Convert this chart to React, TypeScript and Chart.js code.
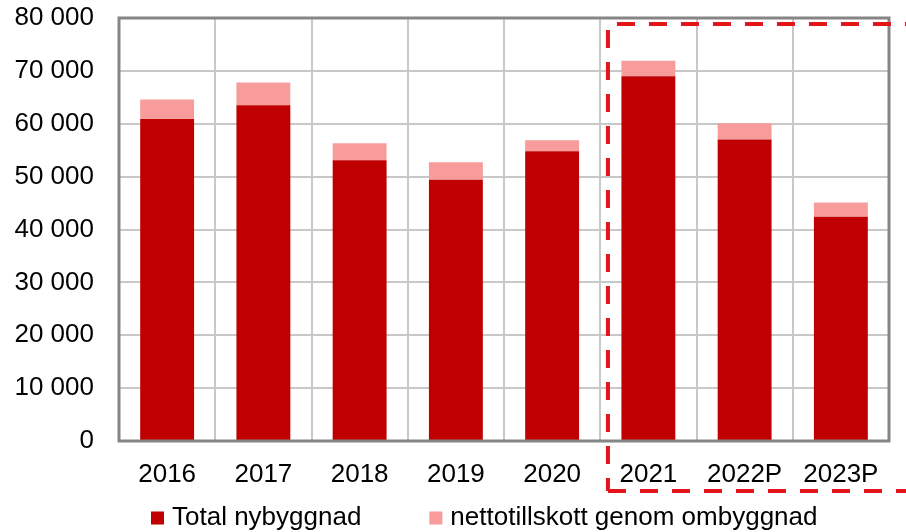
import React, { useEffect, useRef } from 'react';
import { Chart, registerables } from 'chart.js';

Chart.register(...registerables);

const categories = ['2016', '2017', '2018', '2019', '2020', '2021', '2022P', '2023P'];
const totalNybyggnad = [60900, 63500, 53100, 49400, 54800, 69000, 57000, 42400];
const nettotillskott = [3700, 4300, 3200, 3300, 2100, 2900, 3100, 2700];
const seriesLabels = ['Total nybyggnad', 'nettotillskott genom ombyggnad'];
const seriesColors = ['#C00000', '#F79B9B'];
const yMax = 80000;
const yStep = 10000;
const forecastStart = 4.58; // category position where the forecast frame begins

const FONT = '"Liberation Sans", Arial, sans-serif';

const fmt = (v: number) => String(v).replace(/\B(?=(\d{3})+(?!\d))/g, ' ');

const framePlugin = {
  id: 'frame',
  afterDatasetsDraw(chart: any) {
    const { ctx, chartArea: a } = chart;
    ctx.save();
    ctx.strokeStyle = '#858585';
    ctx.lineWidth = 3;
    ctx.strokeRect(a.left, a.top, a.right - a.left, a.bottom - a.top);
    ctx.restore();
  },
};

const forecastPlugin = {
  id: 'forecast',
  afterDraw(chart: any) {
    const { ctx, chartArea: a, scales } = chart;
    const x = scales.x.getPixelForValue(forecastStart);
    const top = a.top + 6;
    const bottom = a.bottom + 50;
    const right = chart.width + 10;
    ctx.save();
    ctx.strokeStyle = '#E3141B';
    ctx.lineWidth = 4;
    ctx.setLineDash([18, 14]);
    ctx.beginPath();
    ctx.moveTo(x + 9, top);
    ctx.lineTo(right, top);
    ctx.stroke();
    ctx.beginPath();
    ctx.moveTo(x, top + 6);
    ctx.lineTo(x, bottom);
    ctx.stroke();
    ctx.beginPath();
    ctx.moveTo(x, bottom);
    ctx.lineTo(right, bottom);
    ctx.stroke();
    ctx.restore();
  },
};

const legendPlugin = {
  id: 'customLegend',
  afterDraw(chart: any) {
    const { ctx, chartArea: a } = chart;
    const y = chart.height - 14;
    const box = 13;
    const gap = 8;
    const spacing = 68;
    let x = a.left + 32;
    ctx.save();
    ctx.font = `26px ${FONT}`;
    ctx.textBaseline = 'middle';
    ctx.textAlign = 'left';
    chart.data.datasets.forEach((ds: any) => {
      ctx.fillStyle = ds.backgroundColor;
      ctx.fillRect(x, y - box / 2, box, box);
      x += box + gap;
      ctx.fillStyle = '#000';
      ctx.fillText(ds.label, x, y);
      x += ctx.measureText(ds.label).width + spacing;
    });
    ctx.restore();
  },
};

export default function App() {
  const ref = useRef<HTMLCanvasElement>(null);

  useEffect(() => {
    if (!ref.current) return;
    const chart = new Chart(ref.current, {
      type: 'bar',
      data: {
        labels: categories,
        datasets: [
          {
            label: seriesLabels[0],
            data: totalNybyggnad,
            backgroundColor: seriesColors[0],
            barPercentage: 0.56,
            categoryPercentage: 1,
          },
          {
            label: seriesLabels[1],
            data: nettotillskott,
            backgroundColor: seriesColors[1],
            barPercentage: 0.56,
            categoryPercentage: 1,
          },
        ],
      },
      options: {
        animation: false,
        responsive: true,
        maintainAspectRatio: false,
        layout: { padding: { top: 18, right: 17, bottom: 41, left: 0 } },
        plugins: {
          legend: { display: false },
          tooltip: { enabled: false },
        },
        scales: {
          x: {
            stacked: true,
            grid: { color: '#C8C8C8', lineWidth: 2, drawTicks: false, offset: true },
            border: { display: false },
            ticks: { color: '#000', font: { family: FONT, size: 26 }, padding: 18, maxRotation: 0, autoSkip: false },
            afterFit(scale: any) {
              scale.height = 50;
              scale.paddingLeft = 0;
              scale.paddingRight = 0;
            },
          },
          y: {
            stacked: true,
            min: 0,
            max: yMax,
            grid: { color: '#C8C8C8', lineWidth: 2, drawTicks: false },
            border: { display: false },
            ticks: {
              stepSize: yStep,
              color: '#000',
              font: { family: FONT, size: 26 },
              padding: 25,
              callback: (v: any) => fmt(Number(v)),
            },
            afterFit(scale: any) {
              scale.width = 119;
              scale.paddingTop = 0;
              scale.paddingBottom = 0;
            },
          },
        },
      },
      plugins: [framePlugin, forecastPlugin, legendPlugin],
    });
    return () => chart.destroy();
  }, []);

  return (
    <div style={{ position: 'absolute', left: 0, top: 0, width: 906, height: 532, background: '#fff' }}>
      <canvas ref={ref} />
    </div>
  );
}
